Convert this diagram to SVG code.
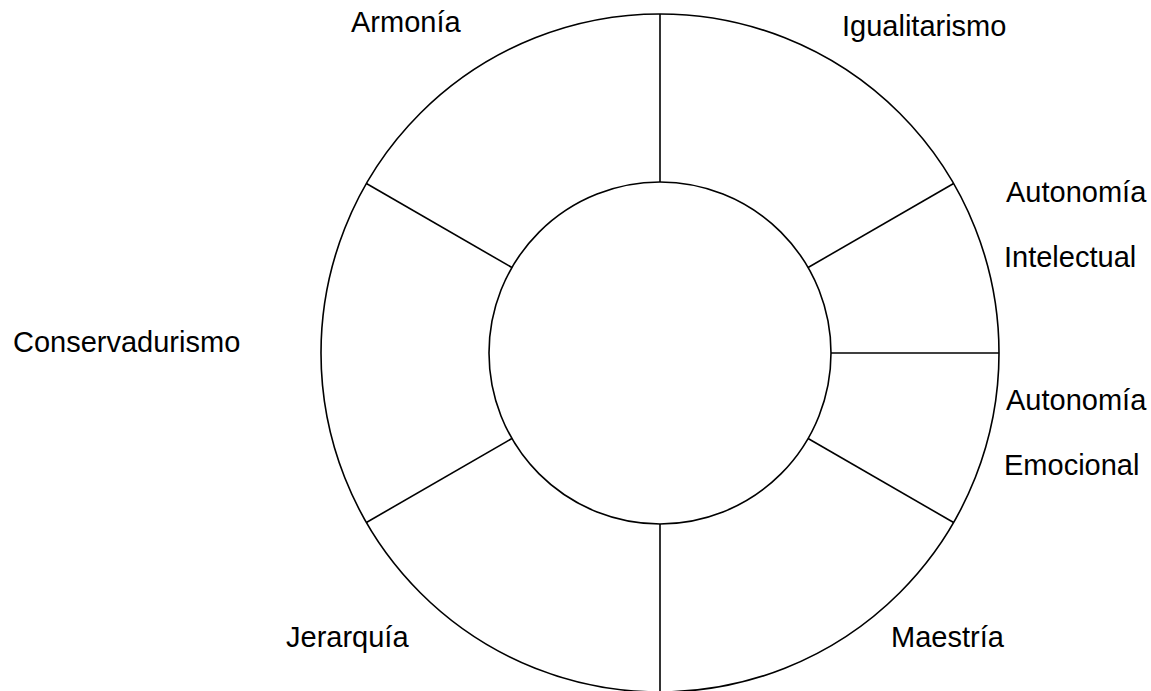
<svg xmlns="http://www.w3.org/2000/svg" width="1151" height="691" viewBox="0 0 1151 691">
<style>
.c{fill:none;stroke:#000;stroke-width:1.6}
.l{stroke:#000;stroke-width:1.6}
text{font-family:"Liberation Sans",Arial,sans-serif;font-size:29px;fill:#000}
</style>
<rect width="1151" height="691" fill="#fff"/>
<g id="outer"><circle class="c" cx="660" cy="353" r="339"/></g>
<g id="inner"><circle class="c" cx="660" cy="353" r="171"/></g>
<g id="connectors">
<line class="l" x1="660" y1="14" x2="660" y2="182"/>
<line class="l" x1="808.1" y1="267.5" x2="953.6" y2="183.5"/>
<line class="l" x1="831" y1="353" x2="999" y2="353"/>
<line class="l" x1="808.1" y1="438.5" x2="953.6" y2="522.5"/>
<line class="l" x1="660" y1="524" x2="660" y2="692"/>
<line class="l" x1="511.9" y1="438.5" x2="366.4" y2="522.5"/>
<line class="l" x1="511.9" y1="267.5" x2="366.4" y2="183.5"/>
</g>
<g id="armonia"><text x="351" y="32">Armonía</text></g>
<g id="igualitarismo"><text x="842" y="36">Igualitarismo</text></g>
<g id="autonomia-intelectual"><text x="1006" y="202">Autonomía</text><text x="1004" y="267">Intelectual</text></g>
<g id="autonomia-emocional"><text x="1006" y="410">Autonomía</text><text x="1004" y="475">Emocional</text></g>
<g id="conservadurismo"><text x="13" y="352">Conservadurismo</text></g>
<g id="jerarquia"><text x="286" y="647">Jerarquía</text></g>
<g id="maestria"><text x="891" y="647">Maestría</text></g>
</svg>
